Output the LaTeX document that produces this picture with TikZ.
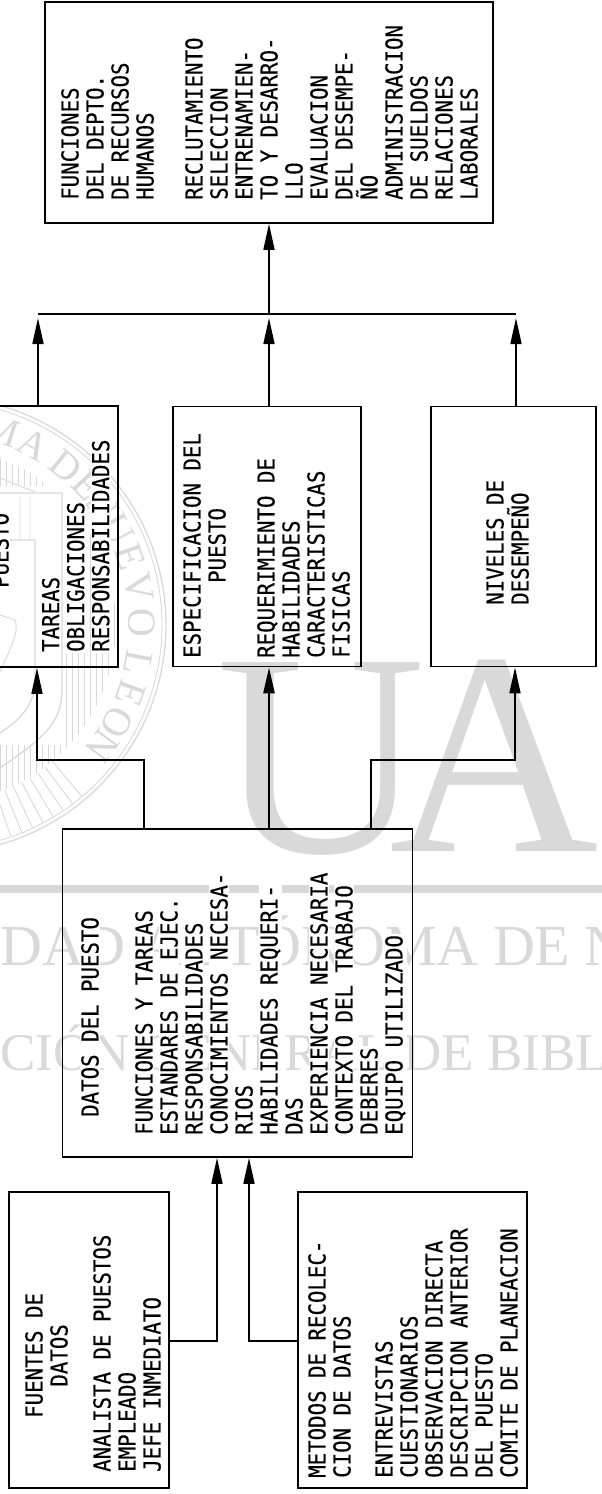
\documentclass[tikz,border=0pt]{standalone}
\usepackage{fontspec}
\usetikzlibrary{arrows.meta, calc}
\newfontfamily\cadfont[FakeStretch=0.89,FakeBold=0.35]{DejaVu Sans Mono}
\newfontfamily\markfont{Liberation Serif}
\definecolor{markgray}{gray}{0.85}
\setlength{\fboxsep}{1pt}
\newcommand{\rowtxt}[1]{\colorbox{white}{#1}}
\tikzset{
    boxnode/.style={
        draw,
        line width=1.7pt,
        inner sep=0
    },
    rowtext/.style={
        rotate=90,
        anchor=north west,
        inner sep=0,
        align=left,
        font=\cadfont\fontsize{23.3}{25}\selectfont
    },
    headtext/.style={
        rowtext,
        align=center
    },
    linkline/.style={
        line width=1.6pt
    },
    arrowline/.style={
        linkline,
        -{Triangle[length=26pt,width=11pt]}
    },
    markletter/.style={
        inner sep=0,
        text=markgray,
        font=\markfont\fontsize{40}{40}\selectfont
    },
    sealline/.style={
        draw=markgray,
        line width=0.9pt
    }
}
\begin{document}
\begin{tikzpicture}[x=1pt, y=-1pt]
    \useasboundingbox (0,0) rectangle (602,1494);
    % marca de agua
    \node[anchor=base west, inner sep=0, text=markgray, font=\markfont\fontsize{290}{290}\selectfont] (bigu) at (216,852) {U};
    \node[anchor=base west, inner sep=0, text=markgray, font=\markfont\fontsize{290}{290}\selectfont] (biga) at (389,851) {A};
    \fill[markgray] (0,885) rectangle (602,893);
    \node[anchor=base west, inner sep=0, text=markgray, font=\markfont\fontsize{58}{58}\selectfont] (markuni) at (0,965) {DAD AUTÓNOMA DE N};
    \node[anchor=base west, inner sep=0, text=markgray, font=\markfont\fontsize{53}{53}\selectfont] (markbib) at (0,1070) {CIÓN GENERAL DE BIBL};
    % escudo
    \coordinate (seal) at (-62,625);
    \draw[sealline, line width=1.3pt] (seal) circle[radius=228pt];
    \draw[sealline] (seal) circle[radius=224pt];
    \foreach \l/\a [count=\i] in {M/72,A/62,D/51,E/43,N/36,U/28,E/19.5,V/10.6,O/0.6,L/-10.7,E/-19.5,O/-28.6,N/-36.5} {
        \node[markletter, rotate=\a-90] (letter\i) at ($(seal)+(\a:204pt)$) {\l};
    }
    \begin{scope}
        \clip (seal) circle[radius=178pt];
        \foreach \x in {66,72,...,120} {
            \draw[sealline] (\x,440) -- (\x,800);
        }
        \foreach \x in {0,6,...,60} {
            \draw[sealline] (\x,440) -- (\x,486);
            \draw[sealline] (\x,745) -- (\x,840);
        }
    \end{scope}
    \foreach \a in {-50,-53,...,-84} {
        \draw[sealline] ($(seal)+(\a:178pt)$) -- ($(seal)+(\a:224pt)$);
    }
    \draw[sealline, line width=1.3pt] (0,493) -- (62,493) -- (62,690) .. controls (62,725) and (40,740) .. (0,768);
    \draw[sealline, line width=1.3pt] (0,540) -- (35,540) -- (35,680) .. controls (35,705) and (20,720) .. (0,733);
    \draw[sealline] (0,478) -- (35,492) (20,497) -- (20,540) (30,497) -- (30,540);
    \draw[sealline] (0,672) .. controls (10,650) and (20,630) .. (15,620) (0,615) -- (15,620);
    % cajas
    \node[boxnode, minimum width=448pt, minimum height=221pt] (rrhh) at (269,112.5) {};
    \node[boxnode, minimum width=128pt, minimum height=261pt] (desc) at (54,536.5) {};
    \node[boxnode, minimum width=188pt, minimum height=260pt] (espec) at (267,536.5) {};
    \node[boxnode, minimum width=165pt, minimum height=260pt] (nivel) at (513.5,536.5) {};
    \node[boxnode, minimum width=350pt, minimum height=328pt] (datos) at (237.5,993) {};
    \node[boxnode, minimum width=160pt, minimum height=296pt] (fuentes) at (89,1340) {};
    \node[boxnode, minimum width=229pt, minimum height=296pt] (metodos) at (412.5,1340) {};
    % textos
    \node[rowtext] (rrhhtit) at (60,201) {\rowtxt{FUNCIONES}\\\rowtxt{DEL DEPTO.}\\\rowtxt{DE RECURSOS}\\\rowtxt{HUMANOS}};
    \node[rowtext] (rrhhtxt) at (184,201) {\rowtxt{RECLUTAMIENTO}\\\rowtxt{SELECCION}\\\rowtxt{ENTRENAMIEN-}\\\rowtxt{TO Y DESARRO-}\\\rowtxt{LLO}\\\rowtxt{EVALUACION}\\\rowtxt{DEL DESEMPE-}\\\rowtxt{ÑO}\\\rowtxt{ADMINISTRACION}\\\rowtxt{DE SUELDOS}\\\rowtxt{RELACIONES}\\\rowtxt{LABORALES}};
    \node[rowtext] (desctit) at (-10,589) {\rowtxt{PUESTO}};
    \node[rowtext] (desctxt) at (40.7,653) {\rowtxt{TAREAS}\\\rowtxt{OBLIGACIONES}\\\rowtxt{RESPONSABILIDADES}};
    \node[headtext] (espectit) at (182,659) {\rowtxt{ESPECIFICACION DEL}\\\rowtxt{PUESTO}};
    \node[rowtext] (espectxt) at (256,659) {\rowtxt{REQUERIMIENTO DE}\\\rowtxt{HABILIDADES}\\\rowtxt{CARACTERISTICAS}\\\rowtxt{FISICAS}};
    \node[rowtext] (niveltxt) at (485,606) {\rowtxt{NIVELES DE}\\\rowtxt{DESEMPEÑO}};
    \node[rowtext] (datostit) at (80,1118) {\rowtxt{DATOS DEL PUESTO}};
    \node[rowtext] (datostxt) at (134,1136) {\rowtxt{FUNCIONES Y TAREAS}\\\rowtxt{ESTANDARES DE EJEC.}\\\rowtxt{RESPONSABILIDADES}\\\rowtxt{CONOCIMIENTOS NECESA-}\\\rowtxt{RIOS}\\\rowtxt{HABILIDADES REQUERI-}\\\rowtxt{DAS}\\\rowtxt{EXPERIENCIA NECESARIA}\\\rowtxt{CONTEXTO DEL TRABAJO}\\\rowtxt{DEBERES}\\\rowtxt{EQUIPO UTILIZADO}};
    \node[headtext] (fuentestit) at (24,1419) {\rowtxt{FUENTES DE}\\\rowtxt{DATOS}};
    \node[rowtext] (fuentestxt) at (92,1473) {\rowtxt{ANALISTA DE PUESTOS}\\\rowtxt{EMPLEADO}\\\rowtxt{JEFE INMEDIATO}};
    \node[rowtext] (metodostit) at (307,1479) {\rowtxt{METODOS DE RECOLEC-}\\\rowtxt{CION DE DATOS}};
    \node[rowtext] (metodostxt) at (374,1479) {\rowtxt{ENTREVISTAS}\\\rowtxt{CUESTIONARIOS}\\\rowtxt{OBSERVACION DIRECTA}\\\rowtxt{DESCRIPCION ANTERIOR}\\\rowtxt{DEL PUESTO}\\\rowtxt{COMITE DE PLANEACION}};
    % conectores
    \coordinate (busl) at (38,314);
    \coordinate (busm) at (269,314);
    \coordinate (busr) at (516,314);
    \coordinate (tapl) at (144,760);
    \coordinate (tapr) at (371,760);
    \coordinate (bendl) at (37,760);
    \coordinate (bendr) at (515,760);
    \coordinate (inl) at (217,1341);
    \coordinate (inr) at (249,1341);
    \draw[linkline, line width=1.2pt] (busl) -- (busr);
    \draw[arrowline, shorten >=4pt] (desc.north -| busl) -- (busl);
    \draw[arrowline, shorten >=4pt] (espec.north -| busm) -- (busm);
    \draw[arrowline, shorten >=4pt] (nivel.north -| busr) -- (busr);
    \draw[arrowline] (busm) -- (rrhh.south -| busm);
    \draw[arrowline] (datos.north -| tapl) -- (tapl) -- (bendl) -- (desc.south -| bendl);
    \draw[arrowline, line width=2.5pt] (datos.north -| busm) -- (espec.south -| busm);
    \draw[arrowline] (datos.north -| tapr) -- (tapr) -- (bendr) -- (nivel.south -| bendr);
    \draw[arrowline] (fuentes.east |- inl) -- (inl) -- (datos.south -| inl);
    \draw[arrowline] (metodos.west |- inr) -- (inr) -- (datos.south -| inr);
\end{tikzpicture}
\end{document}
